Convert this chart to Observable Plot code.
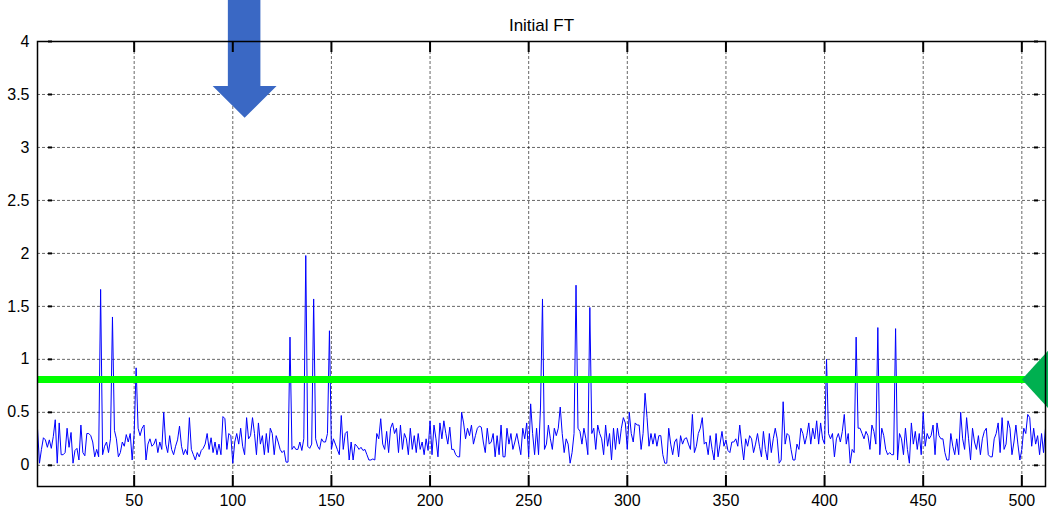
<!DOCTYPE html>
<html>
<head>
<meta charset="utf-8">
<script src="https://cdn.jsdelivr.net/npm/d3@7"></script>
<script src="https://cdn.jsdelivr.net/npm/@observablehq/plot@0.6"></script>
<style>
  html, body { margin: 0; padding: 0; background: #fff; }
  #chart svg { display: block; font-family: "Liberation Sans", Arial, sans-serif; }
</style>
</head>
<body>
<div id="chart"></div>
<script>
const title = "Initial FT";
const xTicks = [50, 100, 150, 200, 250, 300, 350, 400, 450, 500];
const yTicks = [0, 0.5, 1, 1.5, 2, 2.5, 3, 3.5, 4];
const threshold = 0.81;

// Spectrum magnitude, samples 1..512
const values = [
  0.35,0.02,0.15,0.26,0.24,0.17,0.24,0.16,0.27,0.43,
  0.02,0.40,0.10,0.10,0.12,0.35,0.17,0.31,0.02,0.14,
  0.16,0.05,0.38,0.12,0.09,0.30,0.30,0.28,0.22,0.08,
  0.15,0.08,1.66,0.10,0.18,0.22,0.12,0.25,1.40,0.33,
  0.25,0.08,0.12,0.22,0.18,0.29,0.22,0.30,0.05,0.30,
  0.92,0.35,0.28,0.35,0.38,0.05,0.20,0.25,0.18,0.20,
  0.25,0.12,0.22,0.15,0.50,0.20,0.12,0.28,0.15,0.10,
  0.18,0.24,0.37,0.18,0.10,0.15,0.10,0.45,0.15,0.10,
  0.05,0.12,0.08,0.14,0.16,0.20,0.30,0.15,0.26,0.12,
  0.22,0.10,0.20,0.10,0.46,0.44,0.15,0.30,0.28,0.02,
  0.22,0.30,0.20,0.35,0.18,0.10,0.45,0.25,0.28,0.45,
  0.30,0.10,0.40,0.20,0.28,0.10,0.30,0.12,0.35,0.30,
  0.10,0.28,0.22,0.15,0.12,0.14,0.03,0.03,1.21,0.15,
  0.18,0.15,0.15,0.22,0.14,0.25,1.98,0.18,0.16,0.20,
  1.57,0.25,0.18,0.15,0.25,0.22,0.22,0.30,1.27,0.15,
  0.25,0.20,0.15,0.10,0.47,0.15,0.30,0.32,0.05,0.22,
  0.05,0.20,0.18,0.15,0.17,0.14,0.15,0.10,0.05,0.05,
  0.06,0.05,0.30,0.25,0.44,0.20,0.15,0.32,0.12,0.35,
  0.40,0.30,0.35,0.12,0.38,0.15,0.30,0.25,0.10,0.35,
  0.15,0.28,0.12,0.30,0.15,0.22,0.10,0.25,0.14,0.42,
  0.10,0.38,0.25,0.08,0.40,0.25,0.42,0.30,0.20,0.36,
  0.15,0.15,0.10,0.08,0.08,0.50,0.40,0.25,0.35,0.28,
  0.38,0.20,0.28,0.35,0.37,0.36,0.22,0.12,0.35,0.20,
  0.22,0.30,0.08,0.28,0.10,0.38,0.08,0.08,0.35,0.20,
  0.30,0.15,0.22,0.30,0.20,0.10,0.35,0.25,0.40,0.08,
  0.58,0.30,0.10,0.35,0.10,0.55,1.57,0.15,0.20,0.38,
  0.25,0.15,0.35,0.28,0.35,0.55,0.30,0.12,0.25,0.20,
  0.02,0.12,0.30,1.70,0.35,0.32,0.20,0.35,0.25,0.10,
  1.49,0.30,0.35,0.15,0.38,0.30,0.25,0.10,0.38,0.18,
  0.30,0.05,0.35,0.15,0.35,0.20,0.35,0.45,0.40,0.15,
  0.50,0.30,0.22,0.40,0.38,0.38,0.15,0.30,0.68,0.45,
  0.18,0.30,0.20,0.30,0.18,0.28,0.28,0.10,0.02,0.02,
  0.35,0.20,0.10,0.22,0.25,0.08,0.28,0.20,0.25,0.26,
  0.20,0.15,0.48,0.12,0.18,0.30,0.35,0.45,0.20,0.22,
  0.10,0.28,0.15,0.05,0.30,0.08,0.20,0.32,0.18,0.24,
  0.14,0.12,0.22,0.22,0.25,0.18,0.38,0.20,0.05,0.25,
  0.18,0.28,0.25,0.12,0.20,0.30,0.18,0.08,0.32,0.15,
  0.05,0.30,0.12,0.25,0.35,0.25,0.02,0.05,0.60,0.20,
  0.30,0.28,0.15,0.05,0.05,0.20,0.15,0.35,0.30,0.20,
  0.28,0.40,0.20,0.35,0.25,0.42,0.20,0.40,0.25,0.20,
  1.00,0.30,0.25,0.30,0.08,0.25,0.30,0.22,0.32,0.48,
  0.20,0.30,0.02,0.15,0.12,1.21,0.35,0.35,0.30,0.25,
  0.32,0.28,0.15,0.38,0.32,0.20,1.30,0.10,0.35,0.28,
  0.15,0.10,0.12,0.10,0.10,1.29,0.05,0.30,0.25,0.10,
  0.35,0.15,0.02,0.40,0.20,0.32,0.15,0.30,0.10,0.50,
  0.18,0.30,0.25,0.28,0.38,0.10,0.40,0.28,0.25,0.25,
  0.12,0.05,0.05,0.30,0.18,0.10,0.25,0.10,0.50,0.25,
  0.15,0.45,0.25,0.05,0.35,0.22,0.15,0.28,0.10,0.25,
  0.32,0.35,0.10,0.08,0.08,0.25,0.30,0.40,0.12,0.45,
  0.15,0.20,0.42,0.35,0.10,0.22,0.38,0.20,0.05,0.15,
  0.35,0.30,0.48,0.45,0.18,0.35,0.20,0.28,0.10,0.30,
  0.12,0.35
];

// Annotation arrows (data coordinates)
const blueArrowX = [97.5, 114, 114, 122.2, 106, 89.8, 97.5];
const blueArrowY = [4.4, 4.4, 3.58, 3.58, 3.28, 3.58, 3.58];
const greenArrowX = [500, 514, 514];
const greenArrowY = [0.81, 1.095, 0.525];

const series = values.map((v, i) => ({x: i + 1, y: v}));
const blueArrow = blueArrowX.map((x, i) => ({x, y: blueArrowY[i]}));
const greenArrow = greenArrowX.map((x, i) => ({x, y: greenArrowY[i]}));

const fmt = d => String(d);
const gridStyle = {stroke: "#000", strokeOpacity: 0.6, strokeDasharray: "3,2", strokeWidth: 1};

const chart = Plot.plot({
  width: 1048,
  height: 513,
  marginLeft: 37,
  marginRight: 3,
  marginTop: 41,
  marginBottom: 27,
  style: {fontFamily: "'Liberation Sans', Arial, sans-serif", fontSize: "16px", color: "#000", background: "#fff"},
  x: {domain: [1, 512]},
  y: {domain: [-0.2, 4]},
  marks: [
    Plot.gridX(xTicks, gridStyle),
    Plot.gridY(yTicks, gridStyle),
    Plot.line(series, {x: "x", y: "y", stroke: "#0000ff", strokeWidth: 1}),
    Plot.ruleY([threshold], {stroke: "#00ff00", strokeWidth: 7}),
    Plot.line(blueArrow, {x: "x", y: "y", fill: "#3a68c4", stroke: "none", curve: "linear"}),
    Plot.line(greenArrow, {x: "x", y: "y", fill: "#00b050", stroke: "none", curve: "linear"}),
    Plot.frame({stroke: "#000", strokeWidth: 1.5}),
    // inward tick marks (bottom and top)
    Plot.ruleX(xTicks, {x: d => d, insetTop: 434, stroke: "#000", strokeWidth: 2}),
    Plot.ruleX(xTicks, {x: d => d, insetBottom: 434, stroke: "#000", strokeWidth: 2}),
    Plot.axisY(yTicks, {anchor: "left", tickSize: 0, tickPadding: 8, tickFormat: fmt, fontSize: 16, label: null}),
    Plot.axisY(yTicks, {anchor: "left", tickSize: 4, dx: 15, text: null, label: null, strokeWidth: 2}),
    Plot.axisY(yTicks, {anchor: "right", tickSize: 4, dx: -12, text: null, label: null, strokeWidth: 2}),
    Plot.axisX(xTicks, {anchor: "bottom", tickSize: 0, tickPadding: 8, tickFormat: fmt, fontSize: 16, label: null}),
    Plot.text([title], {frameAnchor: "top", dy: -23, fontSize: 17, letterSpacing: "0.8px", fill: "#000"})
  ]
});

document.getElementById("chart").append(chart);
</script>
</body>
</html>
